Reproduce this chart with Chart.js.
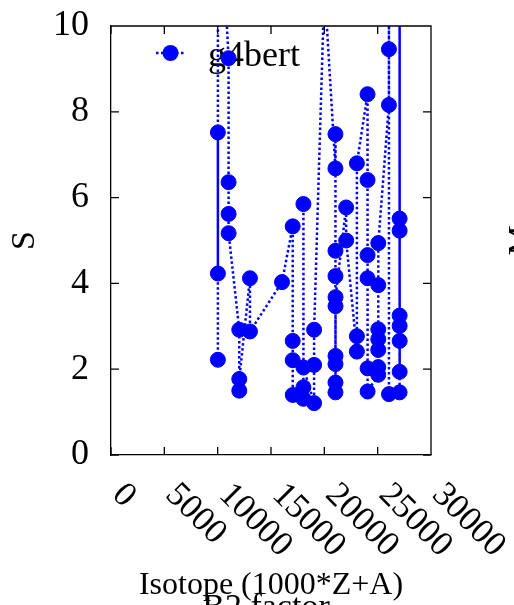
<!DOCTYPE html>
<html>
<head>
<meta charset="utf-8">
<script src="https://cdn.jsdelivr.net/npm/chart.js@4.4.1/dist/chart.umd.min.js"></script>
<style>
  html, body { margin: 0; padding: 0; background: #fff; }
  #wrap { width: 514px; height: 605px; position: relative; }
</style>
</head>
<body>
<div id="wrap"><canvas id="my-chart"></canvas></div>
<script>
// isotope code = 1000*Z + A, in the order the points are joined
const isotopes = [
	10020, 10021, 10022, 10023,
	11023, 11024, 11025, 11026,
	12024, 12025, 12026,
	13027, 13028,
	16032,
	17035, 17036, 17037, 17038,
	18036, 18038, 18040, 18041,
	19039, 19040, 19041,
	20040, 20044,
	21041, 21042, 21043, 21044, 21045, 21046, 21047, 21048, 21049, 21050,
	22046, 22048,
	23050, 23051, 23052,
	24050, 24052, 24053, 24054, 24055, 24056,
	25053, 25054, 25055, 25056, 25057, 25058, 25059,
	26054, 26056, 26057, 26058,
	27055, 27056, 27057, 27058, 27059, 27060, 27061, 27062, 27063
];
const sValues = [
	2.22, 7.52, 4.23, 14.0,
	9.25, 6.36, 5.62, 5.17,
	2.92, 1.50, 1.77,
	4.12, 2.88,
	4.03,
	5.33, 2.66, 2.21, 1.40,
	1.31, 1.58, 5.85, 2.04,
	1.21, 2.10, 2.92,
	11.2, 10.8,
	6.68, 7.48, 4.76, 4.17, 1.46, 1.69, 2.12, 2.31, 3.47, 3.68,
	5.77, 5.00,
	2.41, 2.77, 6.80,
	8.41, 6.41, 4.66, 4.12, 2.02, 1.48,
	1.87, 2.05, 2.45, 2.70, 2.93, 3.96, 4.94,
	8.16, 9.46, 25.0, 1.42,
	1.46, 5.51, 15.0, 5.23, 3.25, 15.0, 3.01, 1.94, 2.66
];
const seriesName = 'g4bert';
const xTicks = [0, 5000, 10000, 15000, 20000, 25000, 30000];
const yTicks = [0, 2, 4, 6, 8, 10];

const FONT = "'Liberation Serif', 'DejaVu Serif', serif";
const BLUE = '#0000ff';

const points = isotopes.map((iso, i) => ({ x: iso, y: sValues[i] }));

// gnuplot-like frame: inward ticks on all four sides, legend under the data,
// rotated x labels and the cut-off labels of the neighbouring panels
const gnuFrame = {
	id: 'gnuFrame',
	beforeDatasetsDraw(chart) {
		const { ctx, chartArea: a } = chart;
		const ly = a.top + 27;
		const lx = a.left + 45;
		ctx.save();
		ctx.strokeStyle = BLUE;
		ctx.lineWidth = 2.5;
		ctx.setLineDash([2.5, 2.5]);
		ctx.beginPath();
		ctx.moveTo(lx, ly);
		ctx.lineTo(lx + 29, ly);
		ctx.stroke();
		ctx.setLineDash([]);
		ctx.fillStyle = BLUE;
		ctx.beginPath();
		ctx.arc(lx + 14.5, ly, 8, 0, Math.PI * 2);
		ctx.fill();
		ctx.fillStyle = '#000';
		ctx.font = '36px ' + FONT;
		ctx.textAlign = 'left';
		ctx.textBaseline = 'alphabetic';
		ctx.fillText(seriesName, lx + 52, ly + 13);
		ctx.restore();
	},
	afterDatasetsDraw(chart) {
		const { ctx, chartArea: a, scales } = chart;
		ctx.save();
		ctx.strokeStyle = '#000';
		ctx.lineWidth = 1.3;
		ctx.beginPath();
		ctx.moveTo(a.left, a.top);
		ctx.lineTo(a.right, a.top);
		ctx.lineTo(a.right, a.bottom);
		const t = 8;
		xTicks.forEach(v => {
			const px = scales.x.getPixelForValue(v);
			ctx.moveTo(px, a.bottom); ctx.lineTo(px, a.bottom - t);
			ctx.moveTo(px, a.top); ctx.lineTo(px, a.top + t);
		});
		yTicks.forEach(v => {
			const py = scales.y.getPixelForValue(v);
			ctx.moveTo(a.left, py); ctx.lineTo(a.left + t, py);
			ctx.moveTo(a.right, py); ctx.lineTo(a.right - t, py);
		});
		ctx.stroke();
		ctx.restore();
	},
	afterDraw(chart) {
		const { ctx, chartArea: a, scales, width } = chart;
		ctx.save();
		ctx.fillStyle = '#000';
		ctx.font = '35px ' + FONT;
		ctx.textAlign = 'left';
		ctx.textBaseline = 'alphabetic';
		xTicks.forEach(v => {
			const px = scales.x.getPixelForValue(v);
			ctx.save();
			ctx.translate(px, a.bottom + 41);
			ctx.rotate(Math.PI / 4);
			ctx.fillText(String(v), 0, 0);
			ctx.restore();
		});
		// pieces of the neighbouring panels' titles
		ctx.font = '34px ' + FONT;
		ctx.textAlign = 'center';
		ctx.fillText('B2 factor', 266, 617);
		ctx.save();
		ctx.translate(width + 17, (a.top + a.bottom) / 2);
		ctx.rotate(-Math.PI / 2);
		ctx.fillText('M', 0, 0);
		ctx.restore();
		ctx.restore();
	}
};

const ctxLine = document.getElementById('my-chart').getContext('2d');
const myChart = new Chart(ctxLine, {
	type: 'line',
	data: {
		datasets: [{
			label: seriesName,
			data: points,
			borderColor: BLUE,
			backgroundColor: BLUE,
			borderWidth: 2.5,
			borderDash: [2.5, 2.5],
			tension: 0,
			pointRadius: 7.5,
			pointBorderWidth: 1,
			pointBackgroundColor: BLUE,
			pointBorderColor: BLUE
		}]
	},
	options: {
		responsive: true,
		maintainAspectRatio: false,
		animation: false,
		devicePixelRatio: 1,
		layout: {
			padding: { top: 26, right: 83, bottom: 0, left: 0 }
		},
		plugins: {
			legend: { display: false },
			tooltip: { enabled: false }
		},
		scales: {
			x: {
				type: 'linear',
				min: 0,
				max: 30000,
				afterBuildTicks: s => { s.ticks = xTicks.map(v => ({ value: v })); },
				afterFit: s => {
					s.height = 150;
					s.paddingLeft = 0;
					s.paddingRight = 0;
				},
				ticks: { display: false },
				grid: { display: false, drawTicks: false },
				border: { display: true, color: '#000', width: 1.3 },
				title: {
					display: true,
					text: 'Isotope (1000*Z+A)',
					color: '#000',
					font: { family: FONT, size: 32 },
					padding: { top: 0, bottom: 0 }
				}
			},
			y: {
				min: 0,
				max: 10,
				afterBuildTicks: s => { s.ticks = yTicks.map(v => ({ value: v })); },
				afterFit: s => {
					s.width = 111;
					s.paddingTop = 0;
					s.paddingBottom = 0;
				},
				ticks: {
					color: '#000',
					padding: 22,
					font: { family: FONT, size: 36 },
					callback: v => String(v)
				},
				grid: { display: false, drawTicks: false },
				border: { display: true, color: '#000', width: 1.3 },
				title: {
					display: true,
					text: 'S',
					color: '#000',
					font: { family: FONT, size: 34 },
					padding: { top: 5, bottom: 0 }
				}
			}
		}
	},
	plugins: [gnuFrame]
});
</script>
</body>
</html>
